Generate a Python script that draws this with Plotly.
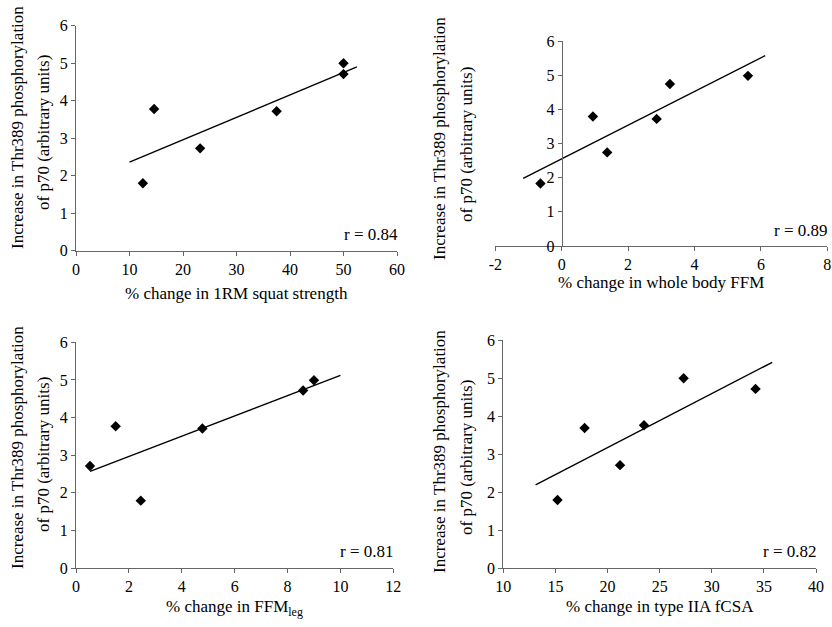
import plotly.graph_objects as go

# Panel A: 1RM squat strength
a_x = [12.5, 14.6, 23.2, 37.5, 50.0, 50.0]
a_y = [1.80, 3.78, 2.73, 3.72, 5.00, 4.71]
a_fit_x = [10.0, 52.5]
a_fit_y = [2.36, 4.90]
a_r = "r = 0.84"

# Panel B: whole body FFM
b_x = [-0.64, 0.94, 1.37, 2.86, 3.26, 5.61]
b_y = [1.83, 3.79, 2.74, 3.72, 4.74, 4.98]
b_fit_x = [-1.16, 6.13]
b_fit_y = [1.98, 5.57]
b_r = "r = 0.89"

# Panel C: FFM leg
c_x = [0.53, 1.50, 2.45, 4.78, 8.59, 9.00]
c_y = [2.71, 3.77, 1.79, 3.71, 4.72, 4.99]
c_fit_x = [0.53, 10.0]
c_fit_y = [2.57, 5.12]
c_r = "r = 0.81"

# Panel D: type IIA fCSA
d_x = [15.2, 17.8, 21.2, 23.5, 27.3, 34.2]
d_y = [1.79, 3.69, 2.71, 3.76, 5.00, 4.72]
d_fit_x = [13.1, 35.8]
d_fit_y = [2.19, 5.42]
d_r = "r = 0.82"

x_titles = ["% change in 1RM squat strength", "% change in whole body FFM",
            "% change in FFM<sub>leg</sub>", "% change in type IIA fCSA"]
y_title_1 = "Increase in Thr389 phosphorylation"
y_title_2 = "of p70 (arbitrary units)"

a_ticks = [0, 10, 20, 30, 40, 50, 60]
b_ticks = [-2, 0, 2, 4, 6, 8]
c_ticks = [0, 2, 4, 6, 8, 10, 12]
d_ticks = [10, 15, 20, 25, 30, 35, 40]
y_ticks = [0, 1, 2, 3, 4, 5, 6]

panels = [
    (a_x, a_y, a_fit_x, a_fit_y, a_r, a_ticks),
    (b_x, b_y, b_fit_x, b_fit_y, b_r, b_ticks),
    (c_x, c_y, c_fit_x, c_fit_y, c_r, c_ticks),
    (d_x, d_y, d_fit_x, d_fit_y, d_r, d_ticks),
]

W, H = 832, 627
# pixel boxes: (left, right, top, bottom)
boxes = [
    (76, 397, 25.7, 250.7),
    (495.3, 827.3, 41, 246),
    (76, 393.3, 342.3, 568),
    (503.3, 816, 340.3, 568),
]
# y-title line centres (x1, y1, x2, y2) in pixels
ytitle_pos = [
    (17, 128, 43, 133),
    (440, 139, 466, 145),
    (17, 448, 43, 455),
    (440, 452, 466, 458),
]
xtitle_y = [293, 283, 608, 606]

FONT = "Liberation Serif, Times New Roman, serif"
AXC = "#666666"
TICKSZ = 16
TITLESZ = 17

fig = go.Figure()
layout = dict(
    width=W, height=H, margin=dict(l=0, r=0, t=0, b=0, autoexpand=False),
    paper_bgcolor="white", plot_bgcolor="white", showlegend=False,
    font=dict(family=FONT, size=TICKSZ, color="black"),
    annotations=[],
)

for i, (px, py, fx, fy, rtxt, xt) in enumerate(panels):
    n = "" if i == 0 else str(i + 1)
    l, r, t, b = boxes[i]
    xd = [l / W, r / W]
    yd = [1 - b / H, 1 - t / H]
    xr = [xt[0], xt[-1]]
    fig.add_trace(go.Scatter(x=fx, y=fy, mode="lines",
                             line=dict(color="black", width=1.4),
                             xaxis="x" + n, yaxis="y" + n, hoverinfo="skip"))
    fig.add_trace(go.Scatter(x=px, y=py, mode="markers",
                             marker=dict(symbol="diamond", size=8, color="black"),
                             xaxis="x" + n, yaxis="y" + n))
    xa = dict(domain=xd, range=xr, tickmode="array", tickvals=xt,
              ticktext=[str(v) for v in xt], showgrid=False,
              zeroline=False, showline=True, linecolor=AXC, linewidth=1,
              ticks="outside", ticklen=4, tickcolor=AXC,
              anchor="y" + n, fixedrange=True, automargin=False,
              tickfont=dict(size=TICKSZ))
    ya = dict(domain=yd, range=[0, 6], tickmode="array", tickvals=y_ticks,
              showgrid=False, zeroline=False,
              showline=True, linecolor=AXC, linewidth=1, automargin=False,
              ticks="outside", ticklen=4, tickcolor=AXC, fixedrange=True,
              tickfont=dict(size=TICKSZ))
    if i == 1:
        ya.update(anchor="free",
                  position=xd[0] + (0 - xr[0]) / (xr[1] - xr[0]) * (xd[1] - xd[0]))
    else:
        ya.update(anchor="x" + n)
    layout["xaxis" + n] = xa
    layout["yaxis" + n] = ya
    x1, y1, x2, y2 = ytitle_pos[i]
    for txt, xx, yy in ((y_title_1, x1, y1), (y_title_2, x2, y2)):
        layout["annotations"].append(dict(
            text=txt, textangle=-90, xref="paper", yref="paper",
            x=xx / W, y=1 - yy / H, showarrow=False,
            font=dict(size=TITLESZ), xanchor="center", yanchor="middle"))
    layout["annotations"].append(dict(
        text=x_titles[i], xref="paper", yref="paper",
        x=(xd[0] + xd[1]) / 2, y=1 - xtitle_y[i] / H, showarrow=False,
        font=dict(size=TITLESZ), xanchor="center", yanchor="middle"))
    layout["annotations"].append(dict(
        text=rtxt, xref="x" + n + " domain", yref="y" + n + " domain",
        x=1.0, y=0.02, xshift=3, showarrow=False, xanchor="right",
        yanchor="bottom", font=dict(size=TITLESZ)))

fig.update_layout(**layout)
fig.write_html("out.html", config={"displayModeBar": False},
               post_script="document.body.style.margin='0px';"
                           "document.body.style.overflow='hidden';")
